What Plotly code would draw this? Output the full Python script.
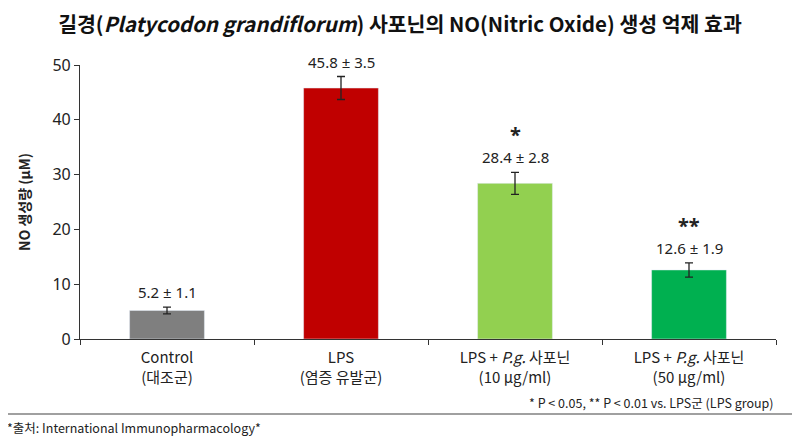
import plotly.graph_objects as go

# data
groups = ["Control<br>(대조군)", "LPS<br>(염증 유발군)",
          "LPS + <i>P.g.</i> 사포닌<br>(10 μg/ml)", "LPS + <i>P.g.</i> 사포닌<br>(50 μg/ml)"]
no_mean = [5.2, 45.8, 28.4, 12.6]
no_sd = [1.1, 3.5, 2.8, 1.9]
err_drawn = [0.6, 2.1, 2.0, 1.3]   # half-length of the whiskers as drawn
stars = ["", "", "*", "**"]
colors = ["#7f7f7f", "#c00000", "#92d050", "#00b050"]

FONT = "Noto Sans CJK KR"
NUMFONT = "Noto Sans, Noto Sans CJK KR"
OFF = 8  # page body margin (top/left)
W, H = 800 - OFF, 436 - OFF
ML, MR, MT, MB = 80 - OFF, 24, 65 - OFF, 97
pw, ph = W - ML - MR, H - MT - MB


def px(x):
    return (x - OFF - ML) / pw


def py(y):
    return (H - MB - (y - OFF)) / ph


fig = go.Figure()
fig.add_trace(go.Bar(
    x=groups, y=no_mean, marker_color=colors, width=0.43,
    error_y=dict(type="data", array=err_drawn, color="#222", thickness=1.3, width=4),
    hoverinfo="skip",
))

for g, m, s, e, st in zip(groups, no_mean, no_sd, err_drawn, stars):
    fig.add_annotation(x=g, y=m + e, text=f"{m} ± {s}", showarrow=False,
                       yanchor="bottom", yshift=3, font=dict(family=NUMFONT, size=15, color="#222"))
    if st:
        fig.add_annotation(x=g, y=m + e, text=f"<b>{st}</b>", showarrow=False,
                           yanchor="bottom", yshift=22, font=dict(family=NUMFONT, size=20, color="#222"))

fig.add_annotation(xref="paper", yref="paper", x=1, y=py(402), xanchor="right", yanchor="middle",
                   text="* P < 0.05, ** P < 0.01 vs. LPS군 (LPS group)", showarrow=False,
                   font=dict(size=12.5, color="#222"))
fig.add_annotation(xref="paper", yref="paper", x=px(5), y=py(427), xanchor="left", yanchor="middle",
                   text="*출처: International Immunopharmacology*", showarrow=False,
                   font=dict(size=12.5, color="#222"))
fig.add_shape(type="line", xref="paper", yref="paper", x0=px(OFF), x1=px(800), y0=py(414), y1=py(414),
              line=dict(color="#a0a0a0", width=2))

fig.update_layout(
    width=W, height=H,
    margin=dict(l=ML, r=MR, t=MT, b=MB),
    paper_bgcolor="white", plot_bgcolor="white",
    font=dict(family=FONT, color="#222"),
    showlegend=False,
    title=dict(text="<b>길경(<i>Platycodon grandiflorum</i>) 사포닌의 NO(Nitric Oxide) 생성 억제 효과</b>",
               x=px(400), xref="paper", xanchor="center", y=1 - (25 - OFF) / H, yanchor="middle",
               font=dict(size=20.5, color="#111")),
    xaxis=dict(showline=True, linecolor="#333", linewidth=1.2, ticks="outside", tickson="boundaries",
               ticklen=5, tickcolor="#333", ticklabelstandoff=5, tickfont=dict(size=15, color="#222")),
    yaxis=dict(range=[0, 50], dtick=10, showline=True, linecolor="#333", linewidth=1.2,
               ticks="outside", ticklen=5, tickcolor="#333", showgrid=False, zeroline=False,
               tickfont=dict(family=NUMFONT, size=16, color="#222"),
               title=dict(text="<b>NO 생성량 (μM)</b>", font=dict(size=14, color="#222"), standoff=18)),
)

fig.write_html("out.html")
